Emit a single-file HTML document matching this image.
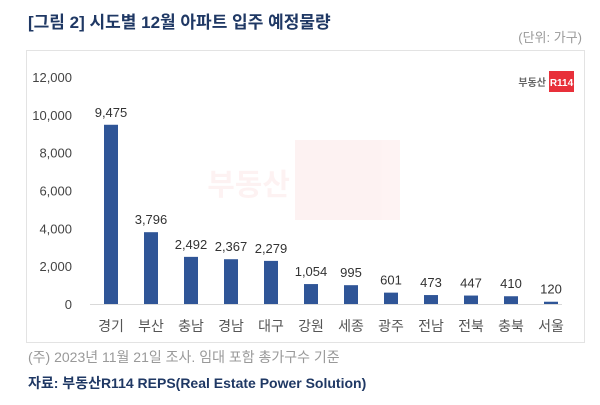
<!DOCTYPE html>
<html><head><meta charset="utf-8"><style>
body{margin:0;width:600px;height:405px;background:#fff;font-family:"Liberation Sans","Noto Sans CJK KR",sans-serif;overflow:hidden}
</style></head><body>
<svg width="600" height="405" style="position:absolute;left:0;top:0" font-family="Liberation Sans, Noto Sans CJK KR, sans-serif">
<text x="28" y="28" font-size="17" font-weight="bold" fill="#1f3864">[그림 2] 시도별 12월 아파트 입주 예정물량</text>
<text x="582" y="42" font-size="13" fill="#999" text-anchor="end">(단위: 가구)</text>
<rect x="26.5" y="50.5" width="558" height="292" fill="#fff" stroke="#e3e3e3"/>
<text x="546" y="86" font-size="10" font-weight="bold" fill="#666" text-anchor="end">부동산</text>
<rect x="549" y="71" width="25" height="21" fill="#e8303a"/>
<text x="561.5" y="86" font-size="10" font-weight="bold" fill="#fff" text-anchor="middle">R114</text>
<g opacity="0.06">
<text x="290" y="195" font-size="30" font-weight="bold" fill="#e8303a" text-anchor="end">부동산</text>
<rect x="295" y="140" width="105" height="80" fill="#e8303a"/>
</g>
<g id="axis"></g><g id="bars"></g>
<text x="28" y="362" font-size="14" fill="#999">(주) 2023년 11월 21일 조사. 임대 포함 총가구수 기준</text>
<text x="28" y="388" font-size="14" font-weight="bold" fill="#1f3864">자료: 부동산R114 REPS(Real Estate Power Solution)</text>
</svg>
<script>
const categories=["경기","부산","충남","경남","대구","강원","세종","광주","전남","전북","충북","서울"];
const values=[9475,3796,2492,2367,2279,1054,995,601,473,447,410,120];
const yTicks=[0,2000,4000,6000,8000,10000,12000];
const NS="http://www.w3.org/2000/svg";
const y0=304,yTop=77,yMax=12000;
const y=v=>y0-(v/yMax)*(y0-yTop);
const x=i=>111+i*40;
const ax=document.getElementById('axis'),bg=document.getElementById('bars');
function mk(tag,attrs,parent,txt){const e=document.createElementNS(NS,tag);for(const k in attrs)e.setAttribute(k,attrs[k]);if(txt!==undefined)e.textContent=txt;parent.appendChild(e);return e;}
yTicks.forEach(t=>{
  const e=mk('text',{x:72,y:y(t)+5,'font-size':13,fill:'#444','text-anchor':'end'},ax,t.toLocaleString('en-US'));
  
  
});
const bl=mk('line',{x1:90,x2:562,y1:y0+0.5,y2:y0+0.5,stroke:'#d9d9d9'},ax);


categories.forEach((c,i)=>{
  const r=mk('rect',{x:x(i)-7,y:y(values[i]),width:14,height:y0-y(values[i]),fill:'#2f5597'},bg);
  
  
  const v=mk('text',{x:x(i),y:y(values[i])-8,'font-size':13,fill:'#333','text-anchor':'middle'},bg,values[i].toLocaleString('en-US'));
  
  
  const l=mk('text',{x:x(i),y:331,'font-size':14,fill:'#555','text-anchor':'middle'},bg,c);
  
  
});
</script>
</body></html>
